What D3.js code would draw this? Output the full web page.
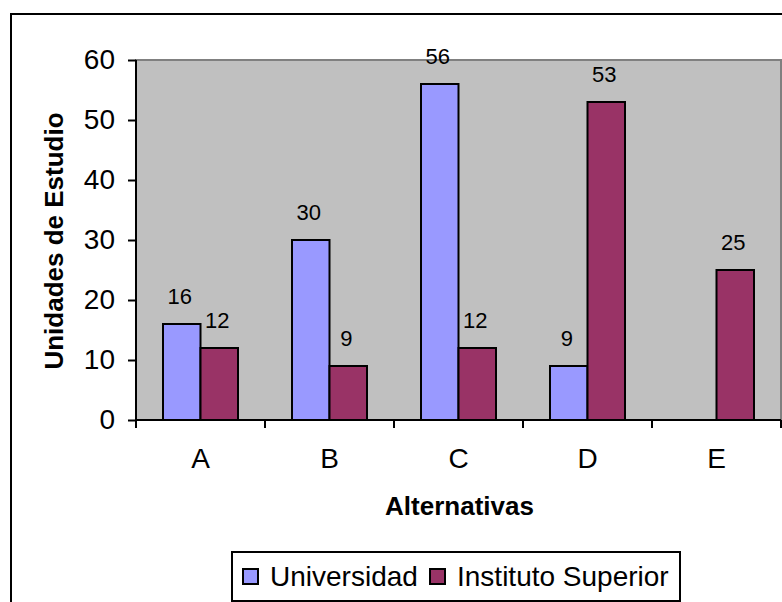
<!DOCTYPE html>
<html>
<head>
<meta charset="utf-8">
<script src="https://cdn.jsdelivr.net/npm/d3@7"></script>
<style>
  html, body { margin: 0; padding: 0; background: #ffffff; }
  svg { display: block; font-family: "Liberation Sans", Arial, sans-serif; }
</style>
</head>
<body>
<script>
// ---- data ----
const categories = ["A", "B", "C", "D", "E"];
const seriesNames = ["Universidad", "Instituto Superior"];
const universidad = [16, 30, 56, 9, null];
const institutoSuperior = [12, 9, 12, 53, 25];
const yTicks = [0, 10, 20, 30, 40, 50, 60];
const xTitle = "Alternativas";
const yTitle = "Unidades de Estudio";
const colors = ["#9999FF", "#993366"];

const W = 782, H = 602;
const plot = { left: 136, right: 781, top: 60, bottom: 420 };

const svg = d3.select("body").append("svg").attr("width", W).attr("height", H);

// outer chart frame (extends beyond window)
svg.append("rect")
  .attr("x", 11).attr("y", 14).attr("width", 820).attr("height", 640)
  .attr("fill", "#ffffff").attr("stroke", "#000").attr("stroke-width", 2);

const x = d3.scaleBand().domain(categories).range([plot.left, plot.right]).padding(0);
const xs = d3.scaleBand().domain(seriesNames).range([0, x.bandwidth()])
  .paddingInner(0).paddingOuter(0.72);
const y = d3.scaleLinear().domain([0, 60]).range([plot.bottom, plot.top]);

// plot area
svg.append("rect")
  .attr("x", plot.left).attr("y", plot.top)
  .attr("width", plot.right - plot.left).attr("height", plot.bottom - plot.top)
  .attr("fill", "#c0c0c0").attr("stroke", "#808080").attr("stroke-width", 2);

// bars
const rows = categories.map((c, i) => ({ cat: c, vals: [universidad[i], institutoSuperior[i]] }));
const g = svg.append("g");
rows.forEach(r => {
  r.vals.forEach((v, si) => {
    if (v == null || v === 0) return;
    const bx = x(r.cat) + xs(seriesNames[si]);
    g.append("rect")
      .attr("x", bx).attr("y", y(v))
      .attr("width", xs.bandwidth()).attr("height", y(0) - y(v))
      .attr("fill", colors[si]).attr("stroke", "#000").attr("stroke-width", 2);
    g.append("text")
      .attr("x", bx + xs.bandwidth() / 2 - 2).attr("y", y(v) - 20)
      .attr("text-anchor", "middle").attr("font-size", 22).attr("fill", "#000")
      .text(v);
  });
});

// y axis
const yAxis = d3.axisLeft(y).tickValues(yTicks).tickSize(8).tickPadding(13);
const yg = svg.append("g").attr("transform", `translate(${plot.left},0)`).call(yAxis);
yg.select(".domain").attr("stroke", "#000").attr("stroke-width", 2).attr("d", `M0,${plot.top}V${plot.bottom}`);
yg.selectAll(".tick line").attr("stroke", "#000").attr("stroke-width", 2);
yg.selectAll(".tick text").attr("font-size", 28).attr("font-family", "Liberation Sans, Arial, sans-serif").attr("fill", "#000");

// x axis: labels at band centers, ticks at band boundaries
const xAxis = d3.axisBottom(x).tickSize(0).tickPadding(28);
const xg = svg.append("g").attr("transform", `translate(0,${plot.bottom})`).call(xAxis);
xg.select(".domain").attr("stroke", "#000").attr("stroke-width", 2).attr("d", `M${plot.left},0H${plot.right}`);
xg.selectAll(".tick text").attr("font-size", 28).attr("font-family", "Liberation Sans, Arial, sans-serif").attr("fill", "#000");
const bounds = d3.range(categories.length + 1).map(i => plot.left + i * x.step());
xg.selectAll("line.bound").data(bounds).enter().append("line")
  .attr("class", "bound")
  .attr("x1", d => d).attr("x2", d => d).attr("y1", 0).attr("y2", 8)
  .attr("stroke", "#000").attr("stroke-width", 2);

// axis titles
svg.append("text")
  .attr("x", (plot.left + plot.right) / 2 + 1).attr("y", 515)
  .attr("text-anchor", "middle").attr("font-size", 26).attr("font-weight", "bold")
  .text(xTitle);
svg.append("text")
  .attr("transform", `translate(63,${(plot.top + plot.bottom) / 2 + 1}) rotate(-90)`)
  .attr("text-anchor", "middle").attr("font-size", 26).attr("font-weight", "bold")
  .text(yTitle);

// legend
const lg = svg.append("g");
lg.append("rect").attr("x", 232).attr("y", 552).attr("width", 448).attr("height", 49)
  .attr("fill", "#fff").attr("stroke", "#000").attr("stroke-width", 2);
const legendX = [243, 430];
seriesNames.forEach((s, i) => {
  lg.append("rect").attr("x", legendX[i]).attr("y", 569).attr("width", 15).attr("height", 15)
    .attr("fill", colors[i]).attr("stroke", "#000").attr("stroke-width", 2);
  lg.append("text").attr("x", legendX[i] + 27).attr("y", 586)
    .attr("font-size", 28).attr("fill", "#000").text(s);
});
</script>
</body>
</html>
